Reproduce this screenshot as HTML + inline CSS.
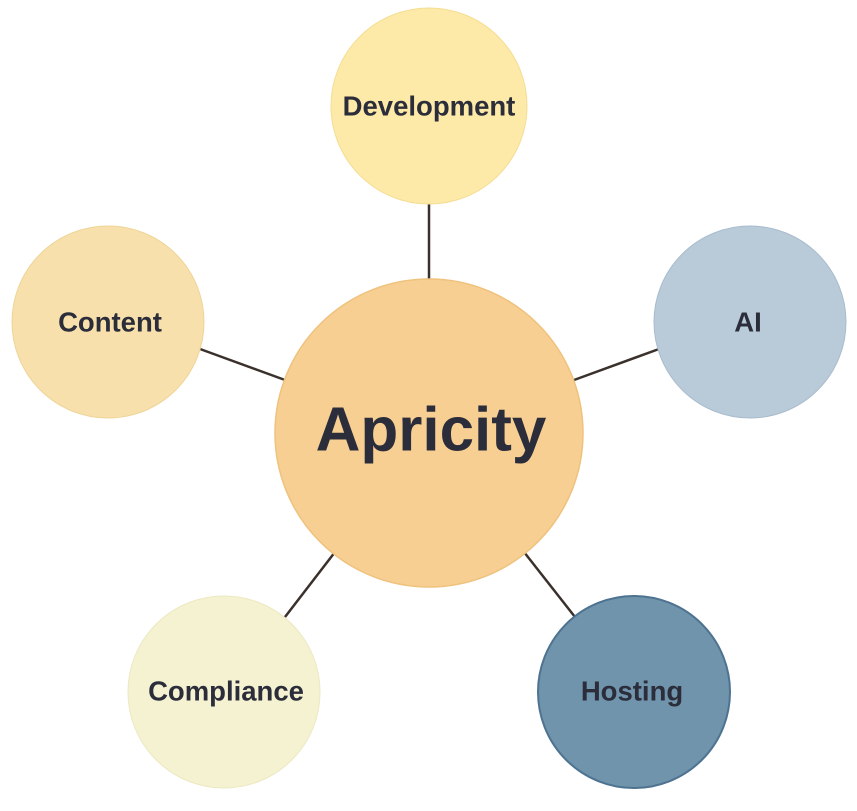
<!DOCTYPE html>
<html><head><meta charset="utf-8"><style>
html,body{margin:0;padding:0;background:#fff;}
svg{display:block;}
text{font-family:"Liberation Sans",sans-serif;fill:#2b2d3a;text-anchor:middle;dominant-baseline:central;}
</style></head><body>
<svg width="857" height="811" viewBox="0 0 857 811">
<g stroke="#3a302c" stroke-width="2.5">
<line x1="429" y1="204" x2="429" y2="281"/>
<line x1="200" y1="349" x2="285" y2="380"/>
<line x1="574" y1="380" x2="659" y2="349"/>
<line x1="285" y1="617" x2="335" y2="552"/>
<line x1="524" y1="552" x2="575" y2="617"/>
</g>
<circle cx="429" cy="106" r="98" fill="#FDE9A8" stroke="#F5DD92" stroke-width="1"/>
<circle cx="108" cy="322" r="96" fill="#F7E0AC" stroke="#EFD497" stroke-width="1"/>
<circle cx="750" cy="322" r="96" fill="#B9CAD9" stroke="#A9BCCD" stroke-width="1"/>
<circle cx="224" cy="692" r="96" fill="#F5F2D1" stroke="#ECE8C0" stroke-width="1"/>
<circle cx="634" cy="692" r="96" fill="#6F94AC" stroke="#4E7390" stroke-width="2"/>
<circle cx="429" cy="433" r="154" fill="#F7CF92" stroke="#EFC27D" stroke-width="1.5"/>
<text x="429" y="106" font-size="27.5" font-weight="bold">Development</text>
<text x="110" y="322" font-size="27.5" font-weight="bold">Content</text>
<text x="748" y="322" font-size="27.5" font-weight="bold">AI</text>
<text x="226" y="691" font-size="27.5" font-weight="bold">Compliance</text>
<text x="632" y="691" font-size="27.5" font-weight="bold">Hosting</text>
<text x="431" y="430" font-size="62" font-weight="bold">Apricity</text>
</svg>
</body></html>
